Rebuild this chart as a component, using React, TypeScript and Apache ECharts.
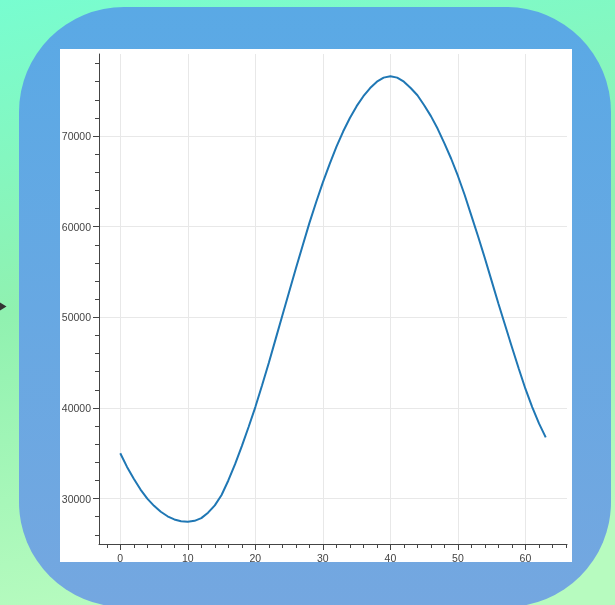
import React, { useEffect, useRef } from "react";
import * as echarts from "echarts";

const xValues: number[] = Array.from({ length: 64 }, (_, i) => i);
const yValues: number[] = [
  35000, 33500, 32200, 31000, 30000, 29200, 28550, 28050, 27700, 27500,
  27450, 27550, 27850, 28450, 29250, 30400, 32000, 33800, 35800, 37900,
  40100, 42500, 45000, 47600, 50200, 52800, 55400, 57900, 60400, 62700,
  64900, 66900, 68800, 70500, 72000, 73300, 74400, 75300, 76000, 76450,
  76600, 76450, 76000, 75300, 74500, 73400, 72200, 70800, 69200, 67500,
  65600, 63500, 61200, 58900, 56500, 54000, 51500, 49100, 46700, 44350,
  42100, 40100, 38300, 36760,
];
const xTicks: number[] = [0, 10, 20, 30, 40, 50, 60];
const yTicks: number[] = [30000, 40000, 50000, 60000, 70000];

export default function App() {
  const ref = useRef<HTMLDivElement>(null);
  useEffect(() => {
    if (!ref.current) return;
    const chart = echarts.init(ref.current, null, { renderer: "svg" });
    const xPad = (63 - 0) * 0.05;
    const yMin = Math.min(...yValues);
    const yMax = Math.max(...yValues);
    const yPad = (yMax - yMin) * 0.05;
    const axisColor = "#444";
    const labelStyle = {
      color: "#444",
      fontFamily: "Liberation Sans, Arial, sans-serif",
      fontSize: 10.5,
    };
    chart.setOption({
      animation: false,
      graphic: [
        {
          type: "rect",
          z: -40,
          shape: { x: 0, y: 0, width: 615, height: 605 },
          style: {
            fill: {
              type: "linear", x: 0, y: 0, x2: 0.2, y2: 1,
              colorStops: [
                { offset: 0, color: "#78fdd0" },
                { offset: 0.5, color: "#90f1b0" },
                { offset: 1, color: "#b7fbbf" },
              ],
            },
          },
        },
        {
          type: "rect",
          z: -30,
          shape: { x: 19, y: 7, width: 592, height: 600, r: 105 },
          style: {
            fill: {
              type: "linear", x: 0, y: 0, x2: 0, y2: 1,
              colorStops: [
                { offset: 0, color: "#5aa9e5" },
                { offset: 1, color: "#74a7e0" },
              ],
            },
          },
        },
        {
          type: "rect",
          z: -20,
          shape: { x: 60, y: 49, width: 512, height: 513 },
          style: { fill: "#ffffff" },
        },
        {
          type: "polygon",
          z: -10,
          shape: { points: [[0, 302.5], [6.5, 306.5], [0, 310.5]] },
          style: { fill: "#333" },
        },
      ],
      grid: { left: 99, right: 48, top: 54, bottom: 61, containLabel: false },
      xAxis: {
        type: "value",
        min: 0 - xPad,
        max: 63 + xPad,
        axisLine: { show: true, onZero: false, lineStyle: { color: axisColor, width: 1 } },
        axisTick: { show: true, length: 6, customValues: xTicks, lineStyle: { color: axisColor } },
        minorTick: { show: true, splitNumber: 5, length: 4, lineStyle: { color: axisColor } },
        axisLabel: { ...labelStyle, margin: 8, customValues: xTicks, formatter: (v: number) => String(v) },
        splitLine: { show: true, lineStyle: { color: "#e8e8e8", width: 1 } },
      },
      yAxis: {
        type: "value",
        min: yMin - yPad,
        max: yMax + yPad,
        axisLine: { show: true, onZero: false, lineStyle: { color: axisColor, width: 1 } },
        axisTick: { show: true, length: 6, customValues: yTicks, lineStyle: { color: axisColor } },
        minorTick: { show: true, splitNumber: 5, length: 4, lineStyle: { color: axisColor } },
        axisLabel: { ...labelStyle, margin: 8, customValues: yTicks, formatter: (v: number) => String(v) },
        splitLine: { show: true, lineStyle: { color: "#e8e8e8", width: 1 } },
      },
      series: [
        {
          type: "line",
          data: xValues.map((x, i) => [x, yValues[i]]),
          showSymbol: false,
          symbol: "none",
          lineStyle: { color: "#1f77b4", width: 2 },
        },
      ],
    });
    return () => chart.dispose();
  }, []);
  return (
    <div
      ref={ref}
      style={{ position: "fixed", left: 0, top: 0, width: 615, height: 605 }}
    />
  );
}
